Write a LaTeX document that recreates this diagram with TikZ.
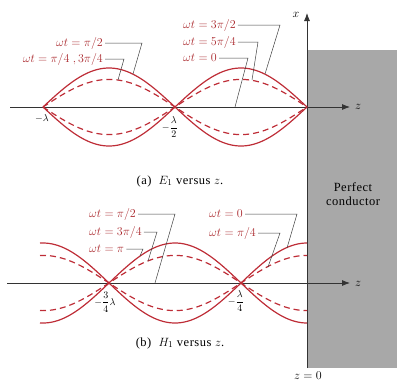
\documentclass[tikz,border=0pt]{standalone}
\usepackage{fontspec}
\setmainfont{Liberation Serif}
\usetikzlibrary{arrows.meta}
\definecolor{wavered}{RGB}{190,45,55}
\definecolor{lblred}{RGB}{170,40,45}
\definecolor{pecgray}{RGB}{168,168,168}

\begin{document}
\begin{tikzpicture}[x=1pt,y=-1pt,
    wave/.style={wavered,line width=1.2pt},
    wavedash/.style={wave,dash pattern=on 6pt off 4pt},
    leader/.style={black!75,line width=0.5pt},
    axis/.style={black!80,line width=0.8pt,-{Latex[length=8pt,width=6pt]}},
    lbl/.style={text=lblred,font=\fontsize{11.5}{12}\selectfont,inner sep=2pt},
    tick/.style={font=\fontsize{10}{11}\selectfont,inner sep=1pt},
    txt/.style={font=\fontsize{12.5}{14}\selectfont\addfontfeatures{LetterSpace=4}}]
  \useasboundingbox (0,0) rectangle (398,383);
  % 理想导体
  \fill[pecgray] (307,50) rectangle (397,368);
  \node[txt,align=center] (pec) at (353,194) {Perfect\\conductor};
  \node[txt] (zero) at (308,376) {$z=0$};
  % 坐标轴
  \draw[axis] (307,368) -- (307,13);
  \node[txt] (xl) at (296,15) {$x$};
  \draw[axis] (10,107) -- (350,107);
  \node[txt] (za) at (358,107) {$z$};
  \draw[axis] (7,283) -- (350,283);
  \node[txt] (zb) at (358,284) {$z$};

  % (a) 电场 E1
  \draw[wave] plot[domain=43:307,samples=121] (\x,{107-39*abs(sin((\x-307)/132*180))});
  \draw[wave] plot[domain=43:307,samples=121] (\x,{107+39*abs(sin((\x-307)/132*180))});
  \draw[wavedash] plot[domain=43:307,samples=121] (\x,{107-27.6*abs(sin((\x-307)/132*180))});
  \draw[wavedash] plot[domain=43:307,samples=121] (\x,{107+27.6*abs(sin((\x-307)/132*180))});
  \node[tick] (na1) at (42,118) {$-\lambda$};
  \node[tick] (na2) at (170,127) {$-\displaystyle\frac{\lambda}{2}$};
  \node[txt] (capa) at (180,181) {(a)\; $E_1$ versus $z$.};
  % 标注
  \node[lbl,anchor=east] (a1) at (105,43) {$\omega t=\pi/2$};
  \node[lbl,anchor=east] (a2) at (105,59) {$\omega t=\pi/4\;,3\pi/4$};
  \node[lbl,anchor=west] (a3) at (181,25) {$\omega t=3\pi/2$};
  \node[lbl,anchor=west] (a4) at (181,42) {$\omega t=5\pi/4$};
  \node[lbl,anchor=west] (a5) at (181,58) {$\omega t=0$};
  \coordinate (ka1) at (142,43);  \coordinate (pa1) at (133,74);
  \coordinate (ka2) at (124,59);  \coordinate (pa2) at (118,80);
  \coordinate (ka3) at (280,25);  \coordinate (pa3) at (265,74);
  \coordinate (ka4) at (258,42);  \coordinate (pa4) at (252,80);
  \coordinate (ka5) at (248,58);  \coordinate (pa5) at (235,107);
  \draw[leader] (a1.east) -- (ka1) -- (pa1);
  \draw[leader] (a2.east) -- (ka2) -- (pa2);
  \draw[leader] (a3.east) -- (ka3) -- (pa3);
  \draw[leader] (a4.east) -- (ka4) -- (pa4);
  \draw[leader] (a5.east) -- (ka5) -- (pa5);

  % (b) 磁场 H1
  \draw[wave] plot[domain=40:307,samples=121] (\x,{283-40*cos((\x-307)/132*180)});
  \draw[wave] plot[domain=40:307,samples=121] (\x,{283+40*cos((\x-307)/132*180)});
  \draw[wavedash] plot[domain=40:307,samples=121] (\x,{283-27.6*cos((\x-307)/132*180)});
  \draw[wavedash] plot[domain=40:307,samples=121] (\x,{283+27.6*cos((\x-307)/132*180)});
  \node[tick] (nb1) at (105,302) {$-\displaystyle\frac{3}{4}\lambda$};
  \node[tick] (nb2) at (236,301) {$-\displaystyle\frac{\lambda}{4}$};
  \node[txt] (capb) at (180,343) {(b)\; $H_1$ versus $z$.};
  % 标注
  \node[lbl,anchor=west] (b1) at (87,214) {$\omega t=\pi/2$};
  \node[lbl,anchor=west] (b2) at (87,232) {$\omega t=3\pi/4$};
  \node[lbl,anchor=west] (b3) at (87,249) {$\omega t=\pi$};
  \node[lbl,anchor=west] (b4) at (207,214) {$\omega t=0$};
  \node[lbl,anchor=west] (b5) at (207,233) {$\omega t=\pi/4$};
  \coordinate (kb1) at (175,214);  \coordinate (pb1) at (155,283);
  \coordinate (kb2) at (157,232);  \coordinate (pb2) at (148,261);
  \coordinate (kb3) at (143,249);  \coordinate (pb3) at (140,256);
  \coordinate (kb4) at (297,214);  \coordinate (pb4) at (287,248);
  \coordinate (kb5) at (280,233);  \coordinate (pb5) at (268,267);
  \draw[leader] (b1.east) -- (kb1) -- (pb1);
  \draw[leader] (b2.east) -- (kb2) -- (pb2);
  \draw[leader] (b3.east) -- (kb3) -- (pb3);
  \draw[leader] (b4.east) -- (kb4) -- (pb4);
  \draw[leader] (b5.east) -- (kb5) -- (pb5);
\end{tikzpicture}
\end{document}
